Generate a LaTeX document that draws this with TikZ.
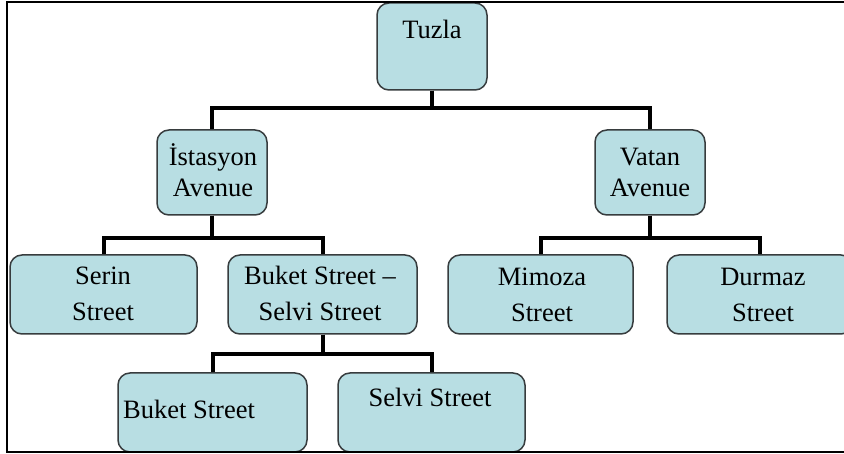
\documentclass[tikz,border=0pt]{standalone}
\usepackage{fontspec}
\setmainfont{Liberation Serif}
\definecolor{boxfill}{RGB}{184,222,227}
\definecolor{boxline}{RGB}{55,60,62}
\begin{document}
\begin{tikzpicture}[x=1pt,y=-1pt,
  box/.style={draw=boxline, line width=1.5pt, fill=boxfill, rounded corners=12pt, inner sep=0pt},
  txt/.style={font=\fontsize{26.5}{31}\selectfont, align=center, inner sep=0pt},
  txtw/.style={font=\fontsize{26.5}{36}\selectfont, align=center, inner sep=0pt},
  conn/.style={line width=4pt, black}]
\useasboundingbox (0,0) rectangle (844,454);
\fill[white] (0,0) rectangle (844,454);
% boxes
\node[box, minimum width=110pt, minimum height=87pt] (tuzla) at (432,46.5) {};
\node[box, minimum width=110pt, minimum height=85pt] (istasyon) at (212,172.5) {};
\node[box, minimum width=110pt, minimum height=85pt] (vatan) at (650,172.5) {};
\node[box, minimum width=187pt, minimum height=79pt] (serin) at (103.5,294.5) {};
\node[box, minimum width=189pt, minimum height=79pt] (buketselvi) at (322.5,294.5) {};
\node[box, minimum width=185pt, minimum height=79pt] (mimoza) at (540.5,294.5) {};
\node[box, minimum width=186pt, minimum height=79pt] (durmaz) at (760,294.5) {};
\node[box, minimum width=189pt, minimum height=79pt] (buket) at (212.5,412.5) {};
\node[box, minimum width=187pt, minimum height=79pt] (selvi) at (431.5,412.5) {};
% texts
\node[txt] (tuzlat) at (432,29) {Tuzla};
\node[txt] (istasyont) at (213,175) {\strut İstasyon\\\strut Avenue};
\node[txt] (vatant) at (650,175) {\strut Vatan\\\strut Avenue};
\node[txtw] (serint) at (103,295.5) {\strut Serin\\\strut Street};
\node[txtw] (buketselvit) at (320,295) {\strut Buket Street –\\\strut Selvi Street};
\node[txtw] (mimozat) at (542,296) {\strut Mimoza\\\strut Street};
\node[txtw] (durmazt) at (763,296) {\strut Durmaz\\\strut Street};
\node[txt, anchor=west] (buketst) at (123,409) {Buket Street};
\node[txt] (selvit) at (430,397) {Selvi Street};
% connectors
\draw[conn] (tuzla.south) -- ++(0,17) -| (istasyon.north);
\draw[conn] (tuzla.south) -- ++(0,17) -| (vatan.north);
\draw[conn] (istasyon.south) -- ++(0,22) -| (serin.north);
\draw[conn] (istasyon.south) -- ++(0,22) -| (buketselvi.north);
\draw[conn] (vatan.south) -- ++(0,22) -| (mimoza.north);
\draw[conn] (vatan.south) -- ++(0,22) -| (durmaz.north);
\draw[conn] (buketselvi.south) -- ++(0,19) -| (buket.north);
\draw[conn] (buketselvi.south) -- ++(0,19) -| (selvi.north);
% frame
\draw[line width=2.5pt, black] (860,2) -- (7,2) -- (7,452) -- (860,452);
\end{tikzpicture}
\end{document}
